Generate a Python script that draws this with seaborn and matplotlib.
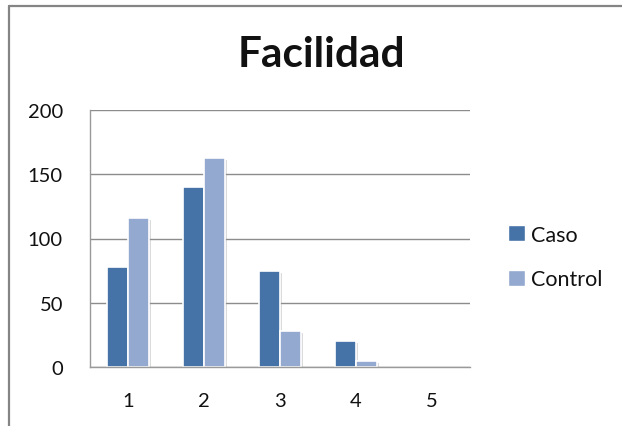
import matplotlib
matplotlib.use("Agg")
import matplotlib.pyplot as plt
import matplotlib.patheffects as pe
from matplotlib.lines import Line2D
from matplotlib.patches import Patch
import seaborn as sns
import pandas as pd

# Chart data
categories = ["1", "2", "3", "4", "5"]
caso = [78, 140, 75, 20, 0]
control = [116, 163, 28, 5, 0]
series_names = ["Caso", "Control"]
y_ticks = [0, 50, 100, 150, 200]

colors = {"Caso": "#4572A7", "Control": "#93A9CF"}

df = pd.DataFrame({
    "categoria": categories * 2,
    "valor": caso + control,
    "serie": [series_names[0]] * len(categories) + [series_names[1]] * len(categories),
})

sns.set_theme(style="white")
plt.rcParams["font.family"] = ["Lato", "DejaVu Sans"]

W, H = 622, 427
fig = plt.figure(figsize=(W / 100, H / 100), dpi=100)
ax = fig.add_axes([90 / W, 1 - 368 / H, 380 / W, 257 / H])

sns.barplot(data=df, x="categoria", y="valor", hue="serie", order=categories,
            hue_order=series_names, palette=colors, width=0.56, dodge=True,
            edgecolor="white", linewidth=1.2, saturation=1, legend=False, ax=ax)

# soft drop shadow on the bars (skip empty bars)
shadow = [pe.SimplePatchShadow(offset=(1.5, -1.5), shadow_rgbFace="#9a9a9a", alpha=0.35),
          pe.Normal()]
for p in ax.patches:
    if p.get_height() > 0:
        p.set_path_effects(shadow)
    else:
        p.set_visible(False)

ax.set_ylim(0, 200)
ax.set_xlim(-0.5, 4.5)
ax.set_yticks(y_ticks)
ax.set_yticklabels([str(v) for v in y_ticks])
ax.yaxis.grid(True, color="#8c8c8c", linewidth=1.0)
ax.set_axisbelow(True)
ax.set_xlabel("")
ax.set_ylabel("")
for side in ["top", "right"]:
    ax.spines[side].set_visible(False)
for side in ["left", "bottom"]:
    ax.spines[side].set_color("#9a9a9a")
    ax.spines[side].set_linewidth(1.0)
ax.tick_params(axis="both", length=0, labelsize=14.5, colors="#111111")
ax.tick_params(axis="y", pad=19.5)
ax.tick_params(axis="x", pad=18)

fig.text(321 / W, 1 - 55 / H, "Facilidad", ha="center", va="center",
         fontsize=30.5, fontweight="bold", color="#111111")

handles = [Patch(facecolor=colors[s], edgecolor="white", label=s) for s in series_names]
fig.legend(handles=handles, loc="center left", bbox_to_anchor=(499 / W, 1 - 258 / H),
           frameon=False, fontsize=15.5, labelcolor="#111111", handlelength=0.8,
           handleheight=0.8, handletextpad=0.3, labelspacing=1.15, borderaxespad=0)

# outer frame of the chart area
fig.add_artist(Line2D([9 / W, 9 / W], [0, 1 - 7 / H], color="#858585", linewidth=1.6,
                      transform=fig.transFigure))
fig.add_artist(Line2D([9 / W, 1], [1 - 7 / H, 1 - 7 / H], color="#858585", linewidth=1.6,
                      transform=fig.transFigure))

fig.savefig("out.png", dpi=100)
